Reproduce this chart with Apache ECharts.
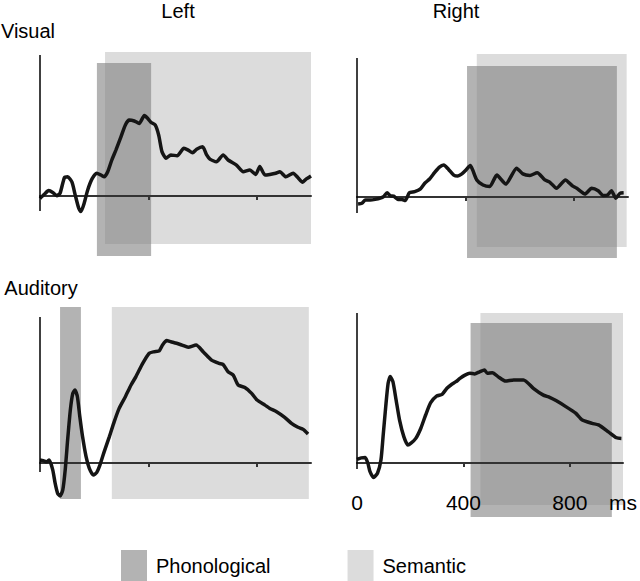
<!DOCTYPE html>
<html>
<head>
<meta charset="utf-8">
<script src="https://cdn.jsdelivr.net/npm/echarts@6/dist/echarts.min.js"></script>
<style>
  html, body { margin: 0; padding: 0; background: #fff; }
  #chart { width: 640px; height: 581px; }
</style>
</head>
<body>
<div id="chart"></div>
<script>
// time ticks (ms) and labels shown under the bottom-right panel
const tickValues = [400, 800];
const labelValues = [0, 400, 800, 1000];

// waveforms: [ms, amplitude]
const visualLeft = [[0,-0.08],[16,0.06],[32,0.18],[47,0.12],[62,0.01],[74,0.09],[90,0.61],[102,0.64],[118,0.46],[130,0.03],[143,-0.41],[151,-0.52],[163,-0.24],[176,0.2],[192,0.57],[209,0.76],[225,0.7],[237,0.64],[250,0.81],[265,1.2],[280,1.53],[299,1.98],[315,2.37],[329,2.53],[348,2.5],[366,2.42],[385,2.68],[397,2.59],[409,2.46],[425,2.37],[438,2.03],[450,1.48],[465,1.26],[483,1.37],[506,1.34],[531,1.59],[547,1.53],[563,1.44],[578,1.56],[600,1.64],[615,1.37],[627,1.23],[651,1.14],[676,1.37],[694,1.2],[725,1.03],[750,0.81],[774,0.87],[796,0.72],[811,0.98],[830,0.7],[848,0.72],[870,0.76],[885,0.81],[907,0.64],[934,0.76],[952,0.61],[969,0.46],[983,0.57],[1000,0.67]];
const visualRight = [[4,-0.23],[18,-0.21],[31,-0.1],[49,-0.1],[67,-0.08],[86,-0.04],[98,0.01],[111,0.14],[123,0.04],[135,0.03],[151,-0.08],[166,-0.08],[178,-0.12],[193,0.14],[213,0.18],[233,0.26],[250,0.46],[267,0.59],[286,0.81],[303,0.99],[320,1.07],[338,0.92],[357,0.73],[372,0.7],[387,0.77],[402,0.9],[418,1.05],[427,0.9],[442,0.57],[465,0.4],[490,0.35],[516,0.73],[549,0.43],[589,0.96],[612,0.77],[638,0.72],[665,0.81],[693,0.57],[712,0.49],[736,0.29],[769,0.57],[795,0.37],[811,0.29],[841,0.1],[866,0.29],[890,0.21],[908,0.05],[925,0.07],[939,0.21],[955,-0.04],[970,0.12],[984,0.14]];
const auditoryLeft = [[0,0.1],[12,0.08],[25,0.04],[34,0.1],[47,-0.23],[56,-0.68],[65,-1.01],[74,-1.1],[84,-0.9],[93,-0.23],[102,0.77],[112,1.77],[121,2.32],[129,2.43],[138,2.21],[147,1.54],[157,0.88],[170,0.21],[182,-0.18],[197,-0.4],[209,-0.32],[221,-0.07],[237,0.38],[256,0.88],[274,1.38],[292,1.82],[315,2.21],[336,2.6],[354,2.88],[379,3.32],[403,3.66],[421,3.71],[440,3.74],[452,3.93],[467,4.08],[483,4.04],[504,3.99],[524,3.93],[547,3.86],[576,3.93],[602,3.71],[633,3.43],[661,3.32],[676,3.28],[694,3.04],[713,2.93],[731,2.6],[756,2.52],[781,2.32],[801,2.1],[830,1.93],[848,1.82],[873,1.71],[903,1.52],[928,1.32],[952,1.19],[971,1.12],[989,0.97]];
const auditoryRight = [[0,0.12],[16,0.17],[31,0.18],[41,-0.01],[49,-0.29],[62,-0.48],[77,-0.34],[90,0.1],[98,0.88],[108,1.88],[117,2.66],[125,2.88],[135,2.71],[147,2.1],[160,1.43],[176,0.88],[191,0.6],[203,0.66],[221,0.82],[240,1.16],[258,1.6],[277,2.01],[299,2.23],[320,2.29],[338,2.49],[353,2.6],[372,2.71],[387,2.82],[406,2.93],[424,2.99],[442,2.97],[461,3.04],[479,3.1],[490,2.99],[509,3.01],[533,2.86],[558,2.73],[589,2.77],[626,2.77],[663,2.49],[699,2.27],[724,2.19],[748,2.08],[785,1.88],[822,1.66],[847,1.43],[884,1.32],[908,1.27],[945,1.04],[976,0.84],[994,0.82]];

// windows: [msStart, msEnd, top, bottom]
const phonoWindows = [[210,410,4.43,-2.0],[406,959,4.37,-2.03],[74,151,5.2,-1.2],[427,958,4.67,-1.8]];
const semanticWindows = [[240,1000,4.8,-1.6],[442,995,4.77,-1.67],[265,992,5.2,-1.2],[464,1000,5.0,-1.4]];

// vertical axis extent for each panel: [top, bottom]
const yAxisExtents = [[4.7,-0.5],[4.63,-0.53],[4.87,-0.3],[5.0,-0.2]];

const waves = [visualLeft, visualRight, auditoryLeft, auditoryRight];

// layout: pixel of 0 ms, pixel of baseline, amplitude range
const panels = [
  { left: 40, base: 196, ymax: 4.8, ymin: -2.0 },
  { left: 357, base: 197, ymax: 4.8, ymin: -2.05 },
  { left: 40, base: 463, ymax: 5.2, ymin: -1.2 },
  { left: 357, base: 463, ymax: 5.05, ymin: -1.8 }
];
const pxPerUnit = 30;
const plotWidth = 271;

const FONT = '"Liberation Sans", Arial, sans-serif';
const darkColor = 'rgba(128,128,128,0.6)';
const lightColor = '#dcdcdc';

const rectItem = (params, api) => {
  const p0 = api.coord([api.value(0), api.value(2)]);
  const p1 = api.coord([api.value(1), api.value(3)]);
  return {
    type: 'rect',
    shape: { x: p0[0], y: p0[1], width: p1[0] - p0[0], height: p1[1] - p0[1] },
    style: api.style()
  };
};

const grid = [], xAxis = [], yAxis = [], series = [];
panels.forEach((p, i) => {
  grid.push({
    left: p.left,
    top: p.base - p.ymax * pxPerUnit,
    width: plotWidth,
    height: (p.ymax - p.ymin) * pxPerUnit
  });
  const showLabels = i === 3;
  xAxis.push({
    gridIndex: i, type: 'value', min: 0, max: 1000, z: 2,
    // axis drawn at amplitude 0: shift it up from the grid bottom
    offset: p.ymin * pxPerUnit,
    axisLine: { onZero: false, lineStyle: { color: '#333', width: 2 } },
    axisTick: { show: true, customValues: tickValues, length: 4, lineStyle: { color: '#333', width: 2 } },
    axisLabel: {
      show: showLabels, customValues: labelValues, margin: 29,
      color: '#000', fontSize: 21, fontFamily: FONT,
      formatter: v => (v === 1000 ? 'ms' : String(v))
    },
    splitLine: { show: false }
  });
  yAxis.push({
    gridIndex: i, type: 'value', min: p.ymin, max: p.ymax,
    axisLine: { show: false }, axisTick: { show: false },
    axisLabel: { show: false }, splitLine: { show: false }
  });
  series.push({
    name: 'Semantic', type: 'custom', xAxisIndex: i, yAxisIndex: i, z: 1,
    renderItem: rectItem, itemStyle: { color: lightColor },
    encode: { x: [0, 1], y: [2, 3] },
    data: [semanticWindows[i]], silent: true
  });
  series.push({
    name: 'Phonological', type: 'custom', xAxisIndex: i, yAxisIndex: i, z: 1,
    renderItem: rectItem, itemStyle: { color: darkColor },
    encode: { x: [0, 1], y: [2, 3] },
    data: [phonoWindows[i]], silent: true
  });
  series.push({
    name: 'wave' + i, type: 'line', xAxisIndex: i, yAxisIndex: i, z: 3,
    data: waves[i], showSymbol: false, smooth: 0.2,
    lineStyle: { color: '#151515', width: 3.5 },
    markLine: {
      silent: true, symbol: ['none', 'none'], label: { show: false },
      lineStyle: { color: '#000', width: 1.5, type: 'solid' },
      data: [[{ coord: [0, yAxisExtents[i][0]] }, { coord: [0, yAxisExtents[i][1]] }]]
    }
  });
});

const label = (text, x, y) => ({
  type: 'text', x: x, y: y,
  style: { text: text, fill: '#000', font: '20px ' + FONT, align: 'center', verticalAlign: 'middle' }
});

const chart = echarts.init(document.getElementById('chart'), null, { renderer: 'svg' });
chart.setOption({
  animation: false,
  grid: grid,
  xAxis: xAxis,
  yAxis: yAxis,
  series: series,
  legend: {
    data: ['Phonological', 'Semantic'],
    left: 121, top: 550, padding: 0,
    icon: 'rect', itemWidth: 26, itemHeight: 31, itemGap: 77,
    textStyle: { color: '#000', fontSize: 20, fontFamily: FONT, padding: [0, 0, 0, 4] }
  },
  graphic: [
    label('Left', 178, 11),
    label('Right', 456, 11),
    label('Visual', 28, 31),
    label('Auditory', 41, 288)
  ]
});
</script>
</body>
</html>
